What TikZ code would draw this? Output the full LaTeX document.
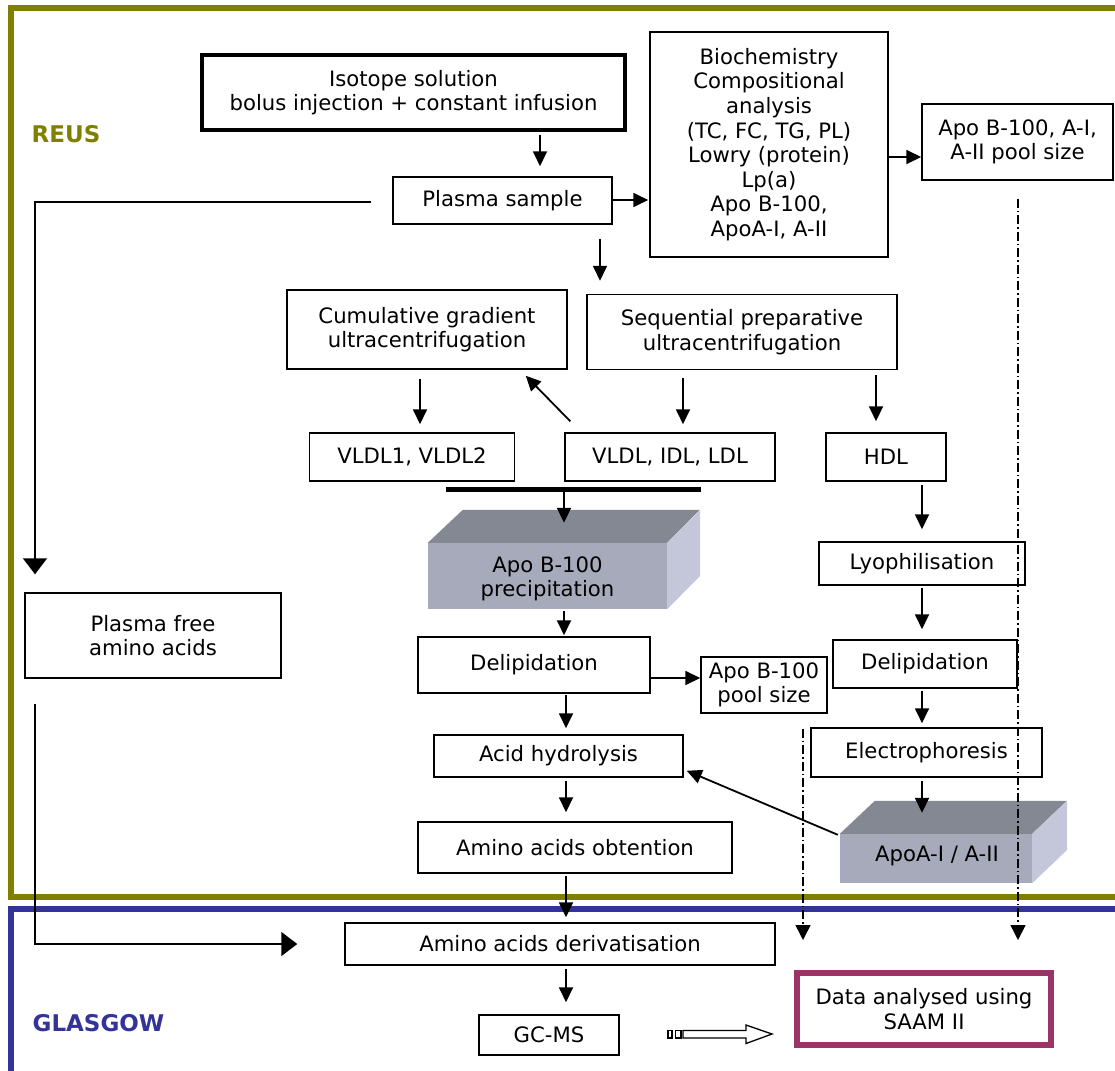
\documentclass[tikz,border=0pt]{standalone}
\usepackage{fontspec}
\setmainfont{DejaVu Sans}
\usetikzlibrary{arrows.meta,calc}
\definecolor{olivef}{RGB}{128,128,0}
\definecolor{bluef}{RGB}{51,51,153}
\definecolor{saam}{RGB}{155,52,100}
\definecolor{topface}{RGB}{132,136,147}
\definecolor{frontface}{RGB}{166,170,186}
\definecolor{sideface}{RGB}{196,199,218}
\newcommand\boxfont{\fontsize{21.2}{24.6}\selectfont}
\newcommand\labfont{\fontsize{23}{27}\selectfont\bfseries}
\begin{document}
\begin{tikzpicture}[x=1pt,y=-1pt,
  box/.style={draw, line width=1.5pt, inner sep=0pt, align=center, font=\boxfont},
  arr/.style={line width=1.8pt, -{Triangle[length=15pt,width=14pt]}},
  bigarr/.style={line width=1.8pt, -{Triangle[length=16pt,width=24pt]}},
  dd/.style={line width=1.5pt, dash pattern=on 9pt off 3pt on 1.5pt off 3pt, -{Triangle[length=15pt,width=15pt]}},
  face/.style={inner sep=0pt, align=center, font=\boxfont}]
\useasboundingbox (0,0) rectangle (1115,1070);
% frames
\draw[olivef, line width=6pt, line join=miter] (1118,8.5) -- (11,8.5) -- (11,897) -- (1118,897);
\draw[bluef, line width=6pt, line join=miter] (1118,909) -- (11,909) -- (11,1075);
\node[text=olivef, font=\labfont] (reus) at (66,134) {REUS};
\node[text=bluef, font=\labfont] (glasgow) at (98.5,1023) {GLASGOW};
% columns and rows
\coordinate (c35) at (35,0);
\coordinate (c540) at (540,0);
\coordinate (c600) at (600,0);
\coordinate (c420) at (420,0);
\coordinate (c683) at (683,0);
\coordinate (c876) at (876,0);
\coordinate (c922) at (922,0);
\coordinate (c564) at (564,0);
\coordinate (c566) at (566,0);
\coordinate (c803) at (803,0);
\coordinate (c1018) at (1018,0);
\coordinate (r678) at (0,678);
\coordinate (r157) at (0,157);
\coordinate (r200) at (0,200);
\coordinate (r202) at (0,202);
% nodes
\node[box, line width=3.5pt, minimum width=423, minimum height=75] (iso) at (413.5,92.5) {Isotope solution\\bolus injection + constant infusion};
\node[box, minimum width=219, minimum height=47] (plasma) at (502.5,200.5) {Plasma sample};
\node[box, minimum width=238, minimum height=225] (bio) at (769,144.5) {Biochemistry\\Compositional\\analysis\\(TC, FC, TG, PL)\\Lowry (protein)\\Lp(a)\\Apo B-100,\\ApoA-I, A-II};
\node[box, minimum width=191, minimum height=76] (pool) at (1017.5,142) {Apo B-100, A-I,\\A-II pool size};
\node[box, minimum width=280, minimum height=79] (cum) at (427,329.5) {Cumulative gradient\\ultracentrifugation};
\node[box, minimum width=310, minimum height=75] (seq) at (742,332) {Sequential preparative\\ultracentrifugation};
\node[box, minimum width=205, minimum height=48] (vldl12) at (412,457) {VLDL1, VLDL2};
\node[box, minimum width=210, minimum height=48] (vldlidl) at (670,457) {VLDL, IDL, LDL};
\node[box, minimum width=120, minimum height=48] (hdl) at (886,457) {HDL};
% precipitation 3D box
\node[face, fill=frontface, minimum width=239, minimum height=66] (precip) at (547.5,576) {};
\fill[topface] (precip.north west) -- ++(35,-33) -- ++(237,0) -- (precip.north east) -- cycle;
\fill[sideface] (precip.north east) -- ++(33,-33) -- ++(0,66) -- (precip.south east) -- cycle;
\node[face] (preciptext) at (547.5,579) {Apo B-100\\precipitation};
\node[box, minimum width=206, minimum height=43] (lyo) at (922,563.5) {Lyophilisation};
\node[box, minimum width=232, minimum height=56] (delipL) at (534,665) {Delipidation};
\node[box, minimum width=126, minimum height=56] (poolB) at (764,685) {Apo B-100\\pool size};
\node[box, minimum width=184, minimum height=48] (delipR) at (925,664) {Delipidation};
\node[box, minimum width=231, minimum height=49] (electro) at (926.5,752.5) {Electrophoresis};
\node[box, minimum width=249, minimum height=42] (acid) at (558.5,756) {Acid hydrolysis};
\node[box, minimum width=314, minimum height=51] (obt) at (575,847.5) {Amino acids obtention};
% ApoA 3D box
\node[face, fill=frontface, minimum width=192, minimum height=49] (apoA) at (936,858.5) {};
\fill[topface] (apoA.north west) -- ++(35,-33) -- ++(192,0) -- (apoA.north east) -- cycle;
\fill[sideface] (apoA.north east) -- ++(35,-33) -- ++(0,49) -- (apoA.south east) -- cycle;
\node[face] (apoAtext) at (937,856) {ApoA-I / A-II};
\node[box, minimum width=256, minimum height=85] (pfree) at (153,635.5) {Plasma free\\amino acids};
\node[box, minimum width=430, minimum height=42] (deriv) at (560,944) {Amino acids derivatisation};
\node[box, minimum width=140, minimum height=40] (gcms) at (549,1035) {GC-MS};
\node[box, draw=saam, line width=6pt, minimum width=254, minimum height=72] (data) at (924,1009) {Data analysed using\\SAAM II};
% bar
\coordinate (b1) at (446,489);
\coordinate (b2) at (701,489);
\draw[line width=5pt] (b1) -- (b2);
% connectors
\draw[arr, shorten <=3pt, shorten >=10pt] (iso.south -| c540) -- (plasma.north -| c540);
\draw[arr, shorten >=1pt] (plasma.east |- r200) -- (bio.west |- r200);
\draw[arr] (bio.east |- r157) -- (pool.west |- r157);
\draw[bigarr, shorten <=21pt, shorten >=18pt] (plasma.west |- r202) -| (c35 |- pfree.north);
\draw[bigarr, shorten <=25pt, shorten >=47pt] (c35 |- pfree.south) |- (deriv.west);
\draw[arr, shorten <=14pt, shorten >=13pt] (plasma.south -| c600) -- (seq.north -| c600);
\draw[arr, shorten <=9pt, shorten >=8pt] (cum.south -| c420) -- (vldl12.north -| c420);
\draw[arr] ([shift={(6,-11)}]vldlidl.north west) -- ([shift={(-42,6)}]cum.south east);
\draw[arr, shorten <=8pt, shorten >=8pt] (seq.south -| c683) -- (vldlidl.north -| c683);
\draw[arr, shorten <=5pt, shorten >=11pt] (seq.south -| c876) -- (hdl.north -| c876);
\draw[arr, shorten <=3pt, shorten >=12pt] (hdl.south -| c922) -- (lyo.north -| c922);
\draw[arr, shorten <=2pt, shorten >=10pt] (lyo.south -| c922) -- (delipR.north -| c922);
\draw[arr, shorten <=2pt, shorten >=4pt] (delipR.south -| c922) -- (electro.north -| c922);
\draw[arr, shorten <=3pt, shorten >=21pt] (electro.south -| c922) -- (apoA.north -| c922);
\draw[arr] ([shift={(-2,1)}]apoA.north west) -- ([shift={(3,-7)}]acid.south east);
\draw[arr, shorten >=20pt] (c564 |- b1) -- (precip.north -| c564);
\draw[arr, shorten <=2pt, shorten >=1pt] (precip.south -| c564) -- (delipL.north -| c564);
\draw[arr] (delipL.east |- r678) -- (poolB.west |- r678);
\draw[arr, shorten <=1pt, shorten >=6pt] (delipL.south -| c566) -- (acid.north -| c566);
\draw[arr, shorten <=3pt, shorten >=9pt] (acid.south -| c566) -- (obt.north -| c566);
\draw[arr, shorten <=2pt, shorten >=5pt] (obt.south -| c566) -- (deriv.north -| c566);
\draw[arr, shorten <=3pt, shorten >=12pt] (deriv.south -| c566) -- (gcms.north -| c566);
\draw[dd, shorten <=18pt, shorten >=30pt] (pool.south -| c1018) -- (data.north -| c1018);
\draw[dd, shorten <=15pt, shorten >=30pt] (poolB.south -| c803) -- (data.north -| c803);
% hollow arrow GC-MS -> data
\draw[line width=1.3pt, fill=white] (683,1030.5) -- (746,1030.5) -- (746,1025) -- (772,1034) -- (746,1043.5) -- (746,1038) -- (683,1038) -- cycle;
\draw[line width=1.3pt, fill=white] (668,1030.5) rectangle (672,1038);
\draw[line width=1.3pt, fill=white] (675.5,1030.5) rectangle (681,1038);
\end{tikzpicture}
\end{document}
